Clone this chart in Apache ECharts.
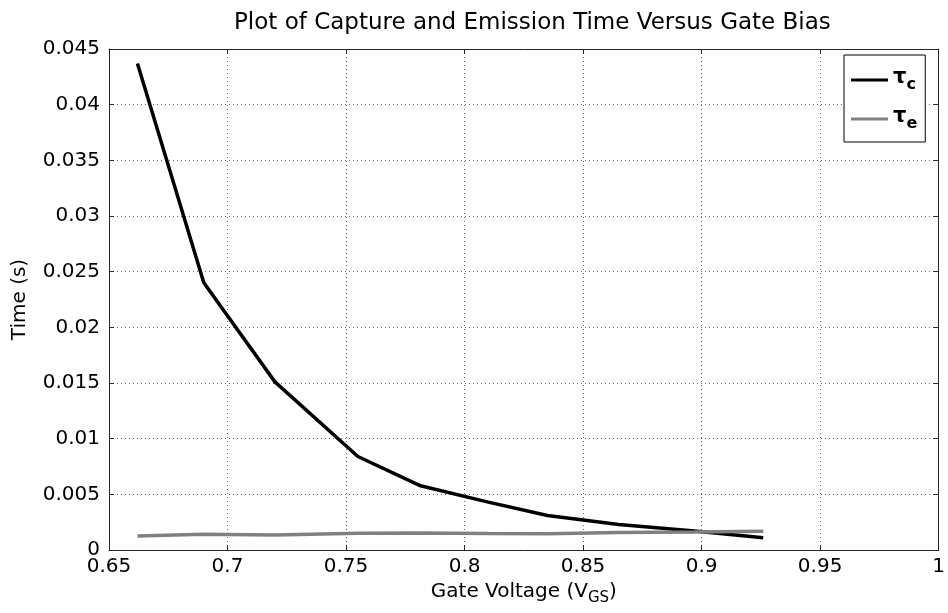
<!DOCTYPE html>
<html>
<head>
<meta charset="utf-8">
<script src="https://cdn.jsdelivr.net/npm/echarts@6/dist/echarts.min.js"></script>
<style>
  html, body { margin: 0; padding: 0; background: #fff; }
  #chart { width: 948px; height: 613px; }
</style>
</head>
<body>
<div id="chart"></div>
<script>
// 栅压 (V)
var vgs = [0.662, 0.690, 0.720, 0.755, 0.781, 0.810, 0.835, 0.865, 0.897, 0.926]
// 俘获时间 tau_c (s)
var tauC = [0.0437, 0.0240, 0.0151, 0.0084, 0.0058, 0.0043, 0.0031, 0.0023, 0.0017, 0.0011]
// 发射时间 tau_e (s)
var tauE = [0.00126, 0.00142, 0.00135, 0.00150, 0.00152, 0.00148, 0.00145, 0.00158, 0.00162, 0.00168]
var seriesNames = ['τc', 'τe']

var FONT = 'DejaVu Sans'
var boxColor = '#262626'

function pairs (xs, ys) {
  let out = []
  for (let i = 0; i < xs.length; i++) {
    out.push([xs[i], ys[i]])
  }
  return out
}

let echart = echarts.init(document.getElementById('chart'), null, { renderer: 'canvas' })

let gridLine = {
  show: true,
  lineStyle: { color: '#666', width: 1, type: [1, 3] }
}

let option = {
  backgroundColor: '#fff',
  animation: false,
  textStyle: { fontFamily: FONT },
  // 标题居中于绘图区而不是整个画布
  title: {
    text: 'Plot of Capture and Emission Time Versus Gate Bias',
    left: 229,
    top: 7,
    textStyle: { fontFamily: FONT, fontSize: 23, fontWeight: 'normal', color: '#000' }
  },
  legend: {
    orient: 'vertical',
    left: 844,
    top: 55,
    padding: [12, 8, 10, 7],
    icon: 'rect',
    itemWidth: 37,
    itemHeight: 3,
    itemGap: 13,
    borderColor: '#000',
    borderWidth: 1,
    backgroundColor: '#fff',
    data: seriesNames,
    formatter: function (name) {
      return '{t|' + name.charAt(0) + '}{s|' + name.slice(1) + '}'
    },
    textStyle: {
      fontFamily: FONT,
      color: '#000',
      rich: {
        t: { fontSize: 21, fontWeight: 'bold', fontFamily: FONT, verticalAlign: 'top' },
        s: { fontSize: 16, fontWeight: 'bold', fontFamily: FONT, padding: [10, 0, 0, 0], verticalAlign: 'bottom' }
      }
    }
  },
  grid: {
    left: 109,
    right: 4,
    top: 49,
    bottom: 63,
    containLabel: false
  },
  xAxis: [
    {
      type: 'value',
      min: 0.65,
      max: 1,
      interval: 0.05,
      name: 'Gate Voltage (V{sub|GS})',
      nameLocation: 'middle',
      nameGap: 21,
      nameTextStyle: {
        fontFamily: FONT,
        fontSize: 20,
        color: '#000',
        rich: {
          sub: { fontFamily: FONT, fontSize: 15, padding: [12, 0, 0, 0], verticalAlign: 'bottom' }
        }
      },
      axisLine: { show: true, onZero: false, lineStyle: { color: boxColor, width: 1 } },
      axisTick: { show: true, inside: true, length: 5, lineStyle: { color: boxColor } },
      axisLabel: { fontFamily: FONT, fontSize: 20, color: '#000', margin: 7 },
      splitLine: gridLine
    },
    {
      type: 'value',
      position: 'top',
      min: 0.65,
      max: 1,
      interval: 0.05,
      axisLine: { show: true, onZero: false, lineStyle: { color: boxColor, width: 1 } },
      axisTick: { show: true, inside: true, length: 5, lineStyle: { color: boxColor } },
      axisLabel: { show: false },
      splitLine: { show: false }
    }
  ],
  yAxis: [
    {
      type: 'value',
      min: 0,
      max: 0.045,
      interval: 0.005,
      name: 'Time (s)',
      nameLocation: 'middle',
      nameGap: 79,
      nameTextStyle: { fontFamily: FONT, fontSize: 20, color: '#000' },
      axisLine: { show: true, onZero: false, lineStyle: { color: boxColor, width: 1 } },
      axisTick: { show: true, inside: true, length: 5, lineStyle: { color: boxColor } },
      axisLabel: { fontFamily: FONT, fontSize: 20, color: '#000', margin: 9 },
      splitLine: gridLine
    },
    {
      type: 'value',
      position: 'right',
      min: 0,
      max: 0.045,
      interval: 0.005,
      axisLine: { show: true, onZero: false, lineStyle: { color: boxColor, width: 1 } },
      axisTick: { show: true, inside: true, length: 5, lineStyle: { color: boxColor } },
      axisLabel: { show: false },
      splitLine: { show: false }
    }
  ],
  series: [
    {
      name: seriesNames[0],
      type: 'line',
      data: pairs(vgs, tauC),
      symbol: 'none',
      lineStyle: { color: '#000', width: 3.5 },
      itemStyle: { color: '#000' },
      z: 3
    },
    {
      name: seriesNames[1],
      type: 'line',
      data: pairs(vgs, tauE),
      symbol: 'none',
      lineStyle: { color: '#808080', width: 3.5 },
      itemStyle: { color: '#808080' },
      z: 4
    }
  ]
}

echart.setOption(option)
</script>
</body>
</html>
